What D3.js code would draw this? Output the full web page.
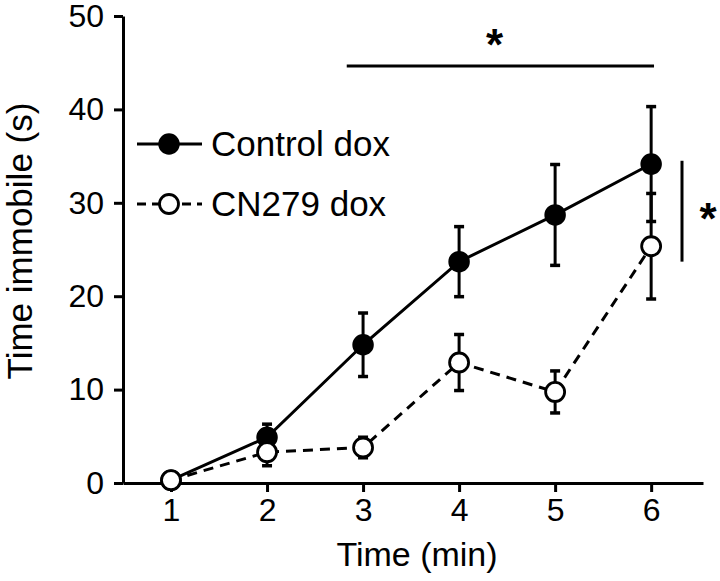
<!DOCTYPE html>
<html>
<head>
<meta charset="utf-8">
<script src="https://cdn.jsdelivr.net/npm/d3@7"></script>
<style>
  html, body { margin: 0; padding: 0; background: #fff; }
  text { font-family: "Liberation Sans", Arial, sans-serif; fill: #000; }
</style>
</head>
<body>
<svg id="chart" width="720" height="581"></svg>
<script>
const times = [1, 2, 3, 4, 5, 6];
const xTickLabels = ["1", "2", "3", "4", "5", "6"];
const yTicks = [0, 10, 20, 30, 40, 50];
const controlMean = [0.3, 4.9, 14.8, 23.7, 28.7, 34.15];
const controlErr  = [0.2, 1.4, 3.4, 3.75, 5.4, 6.15];
const cnMean      = [0.3, 3.3, 3.8, 12.9, 9.75, 25.35];
const cnErr       = [0.2, 1.45, 1.1, 3.0, 2.25, 5.65];
const seriesNames = ["Control dox", "CN279 dox"];
const xTitle = "Time (min)";
const yTitle = "Time immobile (s)";
const sigStar = "*";

const svg = d3.select("#chart");
const x = d3.scaleLinear().domain([0.5, 6.54]).range([123, 703]);
const y = d3.scaleLinear().domain([0, 50]).range([483, 16]);

// axes
const xAxis = d3.axisBottom(x).tickValues(times).tickFormat((d, i) => xTickLabels[i])
  .tickSizeInner(9).tickSizeOuter(0).tickPadding(6);
const yAxis = d3.axisLeft(y).tickValues(yTicks).tickSizeInner(9).tickSizeOuter(0).tickPadding(10);

const gx = svg.append("g").attr("transform", `translate(0,${y(0)})`).call(xAxis);
const gy = svg.append("g").attr("transform", `translate(${x(0.5)},0)`).call(yAxis);
[gx, gy].forEach(g => {
  g.selectAll("path.domain").attr("stroke", "#000").attr("stroke-width", 3);
  g.selectAll(".tick line").attr("stroke", "#000").attr("stroke-width", 3);
  g.selectAll(".tick text").style("font-size", "32px").attr("fill", "#000");
});

// titles
svg.append("text").attr("x", 417).attr("y", 566).attr("text-anchor", "middle")
  .style("font-size", "34px").text(xTitle);
svg.append("text").attr("transform", "translate(32,241) rotate(-90)").attr("text-anchor", "middle")
  .style("font-size", "35px").text(yTitle);

function drawSeries(means, errs, dashed) {
  const pts = times.map((t, i) => ({ t, m: means[i], e: errs[i] }));
  const g = svg.append("g");
  const eb = g.selectAll("g.eb").data(pts).enter().append("g");
  eb.append("line").attr("x1", d => x(d.t)).attr("x2", d => x(d.t))
    .attr("y1", d => y(d.m - d.e)).attr("y2", d => y(d.m + d.e))
    .attr("stroke", "#000").attr("stroke-width", 3);
  [-1, 1].forEach(s => {
    eb.append("line").attr("x1", d => x(d.t) - 5).attr("x2", d => x(d.t) + 5)
      .attr("y1", d => y(d.m + s * d.e)).attr("y2", d => y(d.m + s * d.e))
      .attr("stroke", "#000").attr("stroke-width", 3.5);
  });
  const line = d3.line().x(d => x(d.t)).y(d => y(d.m));
  g.append("path").datum(pts).attr("d", line).attr("fill", "none")
    .attr("stroke", "#000").attr("stroke-width", 3)
    .attr("stroke-dasharray", dashed ? "10,7" : null);
  return { g, pts };
}

const ctrl = drawSeries(controlMean, controlErr, false);
const cn = drawSeries(cnMean, cnErr, true);

ctrl.g.raise();
svg.append("g").selectAll("circle").data(ctrl.pts).enter().append("circle")
  .attr("cx", d => x(d.t)).attr("cy", d => y(d.m)).attr("r", 9.5)
  .attr("fill", "#000").attr("stroke", "#000").attr("stroke-width", 2.5);
svg.append("g").selectAll("circle").data(cn.pts).enter().append("circle")
  .attr("cx", d => x(d.t)).attr("cy", d => y(d.m)).attr("r", 9.5)
  .attr("fill", "#fff").attr("stroke", "#000").attr("stroke-width", 2.8);

// legend
const leg = svg.append("g");
const legY = [144, 204];
leg.append("line").attr("x1", 137).attr("x2", 202).attr("y1", legY[0]).attr("y2", legY[0])
  .attr("stroke", "#000").attr("stroke-width", 3);
leg.append("circle").attr("cx", 169).attr("cy", legY[0]).attr("r", 9.5).attr("fill", "#000")
  .attr("stroke", "#000").attr("stroke-width", 2.5);
leg.append("line").attr("x1", 137).attr("x2", 202).attr("y1", legY[1]).attr("y2", legY[1])
  .attr("stroke", "#000").attr("stroke-width", 3).attr("stroke-dasharray", "9,6");
leg.append("circle").attr("cx", 169).attr("cy", legY[1]).attr("r", 9.5).attr("fill", "#fff")
  .attr("stroke", "#000").attr("stroke-width", 2.8);
seriesNames.forEach((n, i) => {
  leg.append("text").attr("x", 211).attr("y", legY[i] + 12).style("font-size", "35px").text(n);
});

// significance markers
svg.append("line").attr("x1", x(2.83)).attr("x2", x(6.03)).attr("y1", 66).attr("y2", 66)
  .attr("stroke", "#000").attr("stroke-width", 3);
svg.append("text").attr("x", x(4.37)).attr("y", 60).attr("text-anchor", "middle")
  .style("font-size", "44px").style("font-weight", "bold").text(sigStar);
svg.append("line").attr("x1", 682).attr("x2", 682).attr("y1", y(34.5)).attr("y2", y(23.7))
  .attr("stroke", "#000").attr("stroke-width", 3);
svg.append("text").attr("x", 708).attr("y", 234).attr("text-anchor", "middle")
  .style("font-size", "44px").style("font-weight", "bold").text(sigStar);
</script>
</body>
</html>
